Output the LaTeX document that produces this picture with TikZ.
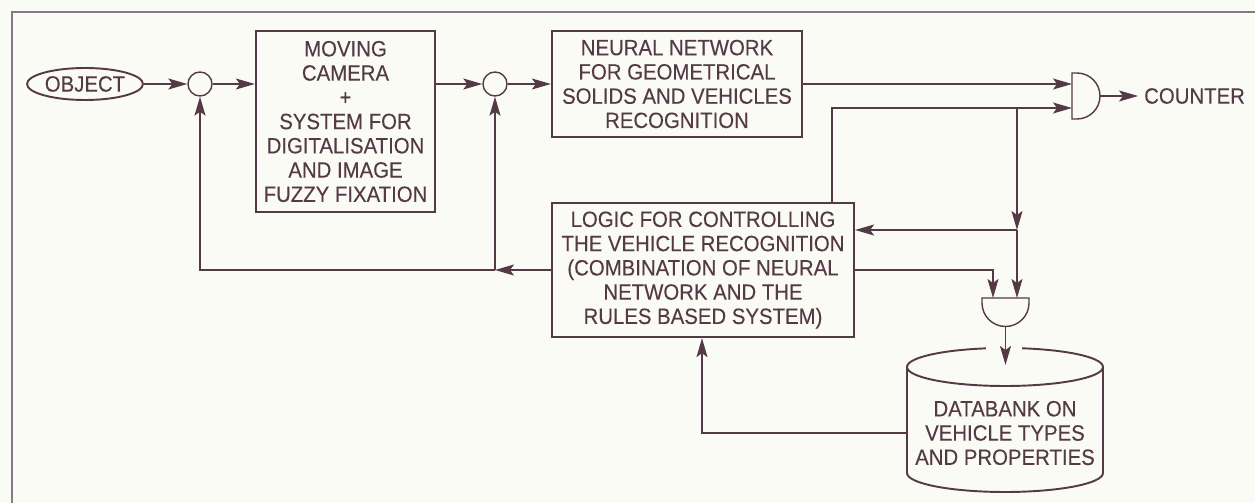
\documentclass[tikz,border=0pt]{standalone}
\usepackage{fontspec}
\setmainfont{Liberation Sans}[FakeStretch=0.92, FakeBold=0.2]
\usetikzlibrary{arrows.meta,shapes.geometric}
\definecolor{ink}{RGB}{84,58,70}
\definecolor{paper}{RGB}{251,251,246}
\definecolor{framegray}{RGB}{135,120,135}

\begin{document}
\begin{tikzpicture}[x=0.02cm, y=0.02cm,
        every node/.style={text=ink, font=\fontsize{12.6}{13.8}\selectfont},
        block/.style={draw=ink, line width=1.3pt, align=center, inner sep=0pt},
        sumpoint/.style={draw=ink, line width=0.8pt, circle, minimum size=0.48cm, inner sep=0pt},
        wire/.style={draw=ink, line width=0.8pt},
        flow/.style={wire, -{Stealth[length=3.8mm, width=2.2mm, inset=0.8mm]}}]
        \fill[paper] (0,0) rectangle (1255,-503);
        \useasboundingbox (0,0) rectangle (1255,-503);
        \draw[framegray, line width=0.9pt] (12,-503) -- (12,-12) -- (1255,-12);

        \node[draw=ink, line width=1.1pt, ellipse, minimum width=2.32cm, minimum height=0.64cm,
              inner sep=0pt] (object) at (85,-84) {OBJECT};
        \node[sumpoint] (sum1) at (200,-84) {};
        \node[block, minimum width=3.58cm, minimum height=3.62cm] (camera) at (345.5,-121.5)
              {MOVING\\CAMERA\\+\\SYSTEM FOR\\DIGITALISATION\\AND IMAGE\\FUZZY FIXATION};
        \node[sumpoint] (sum2) at (495,-84) {};
        \node[block, minimum width=5cm, minimum height=2.12cm] (neural) at (677,-84)
              {NEURAL NETWORK\\FOR GEOMETRICAL\\SOLIDS AND VEHICLES\\RECOGNITION};
        \node[block, minimum width=6.04cm, minimum height=2.68cm] (logic) at (703,-270)
              {LOGIC FOR CONTROLLING\\THE VEHICLE RECOGNITION\\(COMBINATION OF NEURAL\\NETWORK AND THE\\RULES BASED SYSTEM)};
        \node[anchor=west] (counter) at (1138,-96) {COUNTER};

        % gates
        \draw[wire] (1072,-73) -- (1077,-73) arc[start angle=90, end angle=-90, radius=23]
              -- (1072,-119) -- cycle;
        \coordinate (and1a) at (1072,-84);
        \coordinate (and1b) at (1072,-108);
        \coordinate (and1out) at (1100,-96);
        \draw[wire] (982,-298) -- (1029,-298) -- (1029,-303)
              arc[start angle=0, end angle=-180, radius=23.5] -- cycle;
        \coordinate (and2a) at (993,-298);
        \coordinate (and2b) at (1017,-298);
        \coordinate (and2out) at (1005.5,-327);

        % databank
        \draw[ink, line width=1.1pt] (907,-367) -- (907,-473)
              arc[start angle=180, end angle=360, x radius=98, y radius=19] -- (1103,-367);
        \draw[ink, line width=1.1pt] (1005,-367) ellipse[x radius=98, y radius=19];
        \fill[paper] (986,-343) rectangle (1022,-356);
        \node[align=center] (bank) at (1005,-433) {DATABANK ON\\VEHICLE TYPES\\AND PROPERTIES};
        \coordinate (banktop) at (1005.5,-365);
        \coordinate (bankleft) at (907,-433);

        % forward path
        \draw[flow] (object) -- (sum1);
        \draw[flow] (sum1) -- (camera.west |- sum1);
        \draw[flow] (camera.east |- sum2) -- (sum2);
        \draw[flow] (sum2) -- (neural.west |- sum2);
        \draw[flow] (neural.east |- and1a) -- (and1a);
        \draw[flow] (and1out) -- (counter.west);

        % feedback from logic
        \coordinate (fb) at (495,-270);
        \draw[flow] (logic.west) -- (fb);
        \draw[flow] (fb) -- (sum2);
        \draw[flow] (fb) -- (200,-270) -- (sum1);
        \draw[flow] (logic.north -| 832,0) -- (832,-108) -- (and1b);
        \coordinate (split) at (1017,-230);
        \draw[flow] (1017,-108) -- (split);
        \draw[flow] (split) -- (logic.east |- split);
        \draw[flow] (split) -- (and2b);
        \draw[flow] (logic.east |- 0,-270) -- (993,-270) -- (and2a);
        \draw[flow] (and2out) -- (banktop);
        \draw[flow] (bankleft) -- (702,-433) -- (logic.south -| 702,0);
\end{tikzpicture}
\end{document}
